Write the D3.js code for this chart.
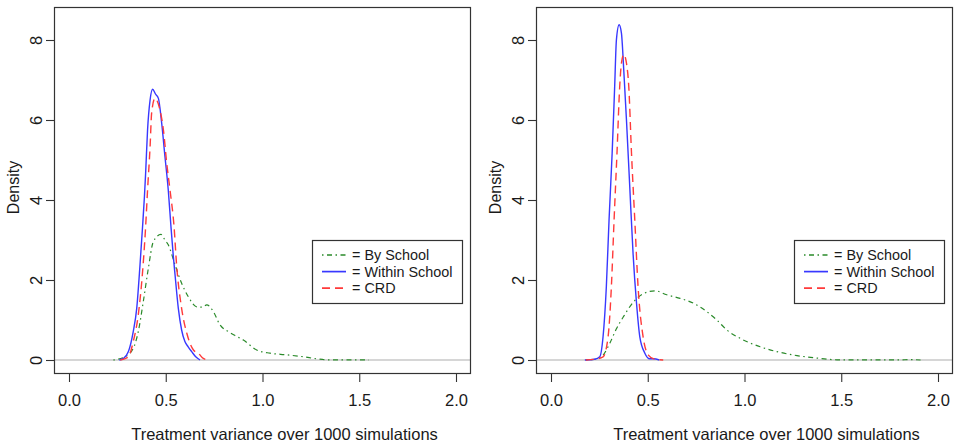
<!DOCTYPE html>
<html>
<head>
<meta charset="utf-8">
<script src="https://cdn.jsdelivr.net/npm/d3@7"></script>
<style>
  html, body { margin: 0; padding: 0; background: #fff; }
  svg { display: block; }
  text { font-family: "Liberation Sans", Arial, Helvetica, sans-serif; fill: #1a1a1a; }
</style>
</head>
<body>
<svg id="chart" width="954" height="444"></svg>
<script>
// ---- data ----
const xTicks = [0, 0.5, 1.0, 1.5, 2.0];
const yTicks = [0, 2, 4, 6, 8];
const seriesNames = ["By School", "Within School", "CRD"];
const xLabel = "Treatment variance over 1000 simulations";
const yLabel = "Density";

// left panel: [treatment variance, density]
const leftBySchool = [[0.229,0],[0.289,0.08],[0.332,0.29],[0.358,0.71],[0.384,1.46],[0.41,2.29],[0.436,2.96],[0.475,3.14],[0.496,3.0],[0.513,2.88],[0.548,2.38],[0.582,1.92],[0.617,1.58],[0.66,1.33],[0.69,1.32],[0.712,1.38],[0.746,1.21],[0.78,0.88],[0.823,0.71],[0.862,0.6],[0.901,0.5],[0.97,0.25],[1.039,0.17],[1.125,0.13],[1.211,0.08],[1.28,0.03],[1.33,0.005],[1.4,0.003],[1.5,0.005],[1.55,0]];
const leftWithin = [[0.26,0],[0.281,0.04],[0.307,0.21],[0.332,0.71],[0.35,1.29],[0.367,2.38],[0.379,3.25],[0.39,4.1],[0.396,4.67],[0.406,5.75],[0.419,6.5],[0.432,6.77],[0.447,6.65],[0.462,6.54],[0.479,5.92],[0.496,5.08],[0.513,4.25],[0.527,3.33],[0.539,2.6],[0.548,2.13],[0.565,1.29],[0.582,0.75],[0.599,0.46],[0.616,0.33],[0.634,0.21],[0.655,0.08],[0.677,0]];
const leftCRD = [[0.265,0],[0.307,0.08],[0.332,0.46],[0.358,1.13],[0.379,2.13],[0.396,3.33],[0.406,4.25],[0.419,5.33],[0.427,6.17],[0.444,6.54],[0.47,6.25],[0.488,5.75],[0.505,4.92],[0.522,4.25],[0.543,3.33],[0.556,2.38],[0.582,1.29],[0.611,0.63],[0.643,0.25],[0.668,0.17],[0.694,0.04],[0.72,0]];

// right panel
const rightBySchool = [[0.18,0],[0.236,0.03],[0.269,0.12],[0.304,0.42],[0.338,0.78],[0.374,1.08],[0.426,1.45],[0.478,1.66],[0.538,1.73],[0.598,1.63],[0.667,1.54],[0.736,1.42],[0.805,1.21],[0.857,1.0],[0.909,0.75],[0.978,0.54],[1.081,0.33],[1.167,0.21],[1.271,0.11],[1.391,0.04],[1.478,0.005],[1.6,0.002],[1.8,0.003],[1.86,0.01],[1.91,0]];
const rightWithin = [[0.175,0],[0.226,0.02],[0.252,0.08],[0.269,0.58],[0.286,1.83],[0.3,3.5],[0.316,5.17],[0.329,6.83],[0.338,8.0],[0.352,8.38],[0.364,8.17],[0.376,7.25],[0.39,6.0],[0.407,4.33],[0.424,2.67],[0.442,1.42],[0.459,0.58],[0.485,0.17],[0.51,0.03],[0.53,0.03],[0.56,0]];
const rightCRD = [[0.18,0],[0.226,0.02],[0.269,0.08],[0.295,0.58],[0.312,1.83],[0.326,3.5],[0.341,5.17],[0.355,6.83],[0.364,7.42],[0.376,7.64],[0.39,7.42],[0.402,6.83],[0.416,5.17],[0.433,3.5],[0.45,1.83],[0.476,0.58],[0.502,0.13],[0.536,0.02],[0.58,0]];

// ---- styles ----
const styles = [
  { color: "#2a8a2a", dash: "1.5,3.5,5,3.5", width: 1.2 },
  { color: "#3838ff", dash: null, width: 1.4 },
  { color: "#ff3a3a", dash: "8,5", width: 1.4 }
];

const panels = [
  { dx: 0, series: [leftBySchool, leftWithin, leftCRD] },
  { dx: 482, series: [rightBySchool, rightWithin, rightCRD] }
];

const svg = d3.select("#chart");
const boxL = 54, boxR = 471, boxT = 7, boxB = 374;
const x = d3.scaleLinear().domain([0, 2]).range([69, 456]);
const y = d3.scaleLinear().domain([0, 8]).range([360, 40]);
const fmt = d3.format(".1f");

const line = d3.line()
  .x(d => x(d[0]))
  .y(d => y(d[1]))
  .curve(d3.curveMonotoneX);

panels.forEach(p => {
  const g = svg.append("g").attr("transform", `translate(${p.dx},0)`);

  // clip
  const cid = "clip" + p.dx;
  g.append("clipPath").attr("id", cid)
    .append("rect").attr("x", boxL).attr("y", boxT)
    .attr("width", boxR - boxL).attr("height", boxB - boxT);

  // zero reference line
  g.append("line")
    .attr("x1", boxL).attr("x2", boxR)
    .attr("y1", y(0)).attr("y2", y(0))
    .attr("stroke", "#c8c8c8").attr("stroke-width", 1.5);

  // curves
  const cg = g.append("g").attr("clip-path", `url(#${cid})`);
  p.series.forEach((s, i) => {
    cg.append("path")
      .attr("d", line(s))
      .attr("fill", "none")
      .attr("stroke", styles[i].color)
      .attr("stroke-width", styles[i].width)
      .attr("stroke-dasharray", styles[i].dash)
      .attr("stroke-linejoin", "round");
  });

  // box
  g.append("rect")
    .attr("x", boxL + 0.5).attr("y", boxT + 0.5)
    .attr("width", boxR - boxL - 1).attr("height", boxB - boxT - 1)
    .attr("fill", "none").attr("stroke", "#333").attr("stroke-width", 1.2);

  // x axis
  const xa = g.append("g").attr("transform", `translate(0,${boxB})`)
    .call(d3.axisBottom(x).tickValues(xTicks).tickFormat(fmt)
      .tickSize(8).tickSizeOuter(0).tickPadding(12));
  xa.select(".domain").remove();
  xa.selectAll(".tick line").attr("stroke", "#333").attr("stroke-width", 1.1);
  xa.selectAll(".tick text")
    .style("font-family", '"Liberation Sans", Arial, sans-serif')
    .style("font-size", "16.5px").attr("fill", "#1a1a1a");

  // y axis
  const ya = g.append("g").attr("transform", `translate(${boxL},0)`)
    .call(d3.axisLeft(y).tickValues(yTicks).tickFormat(d3.format("d"))
      .tickSize(8).tickSizeOuter(0));
  ya.select(".domain").remove();
  ya.selectAll(".tick line").attr("stroke", "#333").attr("stroke-width", 1.1);
  ya.selectAll(".tick text")
    .attr("x", null).attr("dy", null)
    .attr("transform", `translate(${42 - boxL},0) rotate(-90)`)
    .attr("text-anchor", "middle")
    .style("font-family", '"Liberation Sans", Arial, sans-serif')
    .style("font-size", "16.5px").attr("fill", "#1a1a1a");

  // axis titles
  g.append("text")
    .attr("x", (boxL + boxR) / 2 + 22).attr("y", 440)
    .attr("text-anchor", "middle")
    .style("font-size", "16.5px")
    .text(xLabel);
  g.append("text")
    .attr("transform", `translate(19,${(boxT + boxB) / 2 - 3}) rotate(-90)`)
    .attr("text-anchor", "middle")
    .style("font-size", "16px")
    .text(yLabel);

  // legend
  const lg = g.append("g");
  lg.append("rect")
    .attr("x", 312.5).attr("y", 240.5).attr("width", 150).attr("height", 63)
    .attr("fill", "#fff").attr("stroke", "#333").attr("stroke-width", 1.2);
  seriesNames.forEach((name, i) => {
    const cy = 255 + i * 16.6;
    lg.append("line")
      .attr("x1", 322).attr("x2", 346).attr("y1", cy).attr("y2", cy)
      .attr("stroke", styles[i].color)
      .attr("stroke-width", styles[i].width + 0.3)
      .attr("stroke-dasharray", styles[i].dash);
    lg.append("text")
      .attr("x", 352).attr("y", cy + 5)
      .style("font-size", "14.4px")
      .text("= " + name);
  });
});
</script>
</body>
</html>
